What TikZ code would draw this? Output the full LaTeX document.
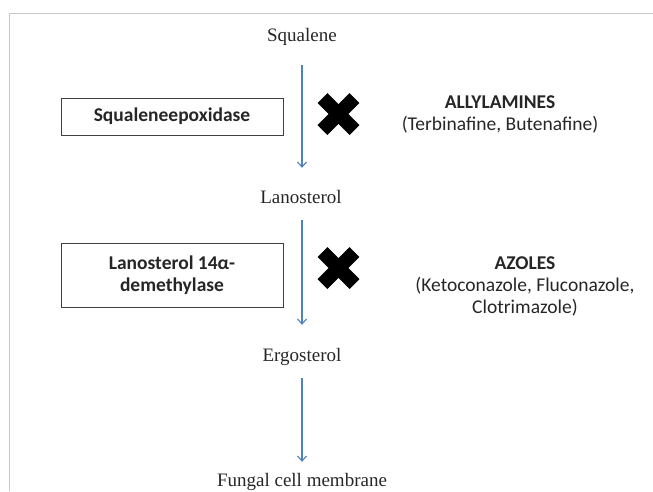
\documentclass[tikz,border=0pt]{standalone}
\usepackage{fontspec}
\setmainfont{Liberation Serif}
\newfontfamily\carlitofont{Carlito}
\usetikzlibrary{arrows.meta,calc}
\definecolor{arrowblue}{RGB}{79,129,189}
\definecolor{framegray}{RGB}{200,200,200}
\definecolor{txt}{RGB}{38,38,38}
\tikzset{
  metab/.style={inner sep=0pt, anchor=base, text height=14pt, text depth=4pt, font=\fontsize{19}{23}\selectfont, text=txt},
  enzyme/.style={draw=black!75, line width=1pt, minimum width=222pt, inner sep=0pt, align=center,
                 font=\carlitofont\bfseries\fontsize{19.5}{22.5}\selectfont, text=txt},
  druglab/.style={inner sep=0pt, anchor=base, font=\carlitofont\fontsize{19.5}{22}\selectfont, text=txt},
  flow/.style={draw=arrowblue, line width=1.1pt, -{Straight Barb[length=5pt,width=9pt,line width=1.1pt]}},
  block/.style={line width=14pt, line cap=butt, draw=black}
}
\begin{document}
\begin{tikzpicture}[x=1pt,y=-1pt]
\useasboundingbox (0,0) rectangle (653,491);
% frame
\draw[framegray, line width=1pt] (9,491) -- (9,13) -- (653,13);

% metabolites
\node[metab] (sq)  at (302,41)  {Squalene};
\node[metab] (lan) at (301,203) {Lanosterol};
\node[metab] (erg) at (302,361) {Ergosterol};
\node[metab] (fun) at (302,486) {Fungal cell membrane};

% arrows
\draw[flow, shorten <=20pt, shorten >=21pt] (sq.south) -- (sq.south |- lan.north);
\draw[flow, shorten <=13pt, shorten >=22pt] (lan.south -| sq.south) -- (sq.south |- erg.north);
\draw[flow, shorten <=13pt, shorten >=10pt] (erg.south) -- (erg.south |- fun.north);

% enzymes
\node[enzyme, minimum height=37pt] (e1) at (172,116.5) {Squaleneepoxidase};
\node[enzyme, minimum height=64pt] (e2) at (172,275) {Lanosterol 14α-\\demethylase};

% block marks
\coordinate (x1) at (338.5,114);
\coordinate (x2) at (338.5,268);
\draw[block] ($(x1)+(-16,-16)$) -- ($(x1)+(16,16)$);
\draw[block] ($(x1)+(-16,16)$) -- ($(x1)+(16,-16)$);
\draw[block] ($(x2)+(-16,-16)$) -- ($(x2)+(16,16)$);
\draw[block] ($(x2)+(-16,16)$) -- ($(x2)+(16,-16)$);

% drugs
\node[druglab, font=\carlitofont\bfseries\fontsize{19.5}{22}\selectfont] (al1) at (500,108) {ALLYLAMINES};
\node[druglab] (al2) at (500,130) {(Terbinafine, Butenafine)};
\node[druglab, font=\carlitofont\bfseries\fontsize{19.5}{22}\selectfont] (az1) at (525,269) {AZOLES};
\node[druglab] (az2) at (525,291) {(Ketoconazole, Fluconazole,};
\node[druglab] (az3) at (525,313) {Clotrimazole)};
\end{tikzpicture}
\end{document}
